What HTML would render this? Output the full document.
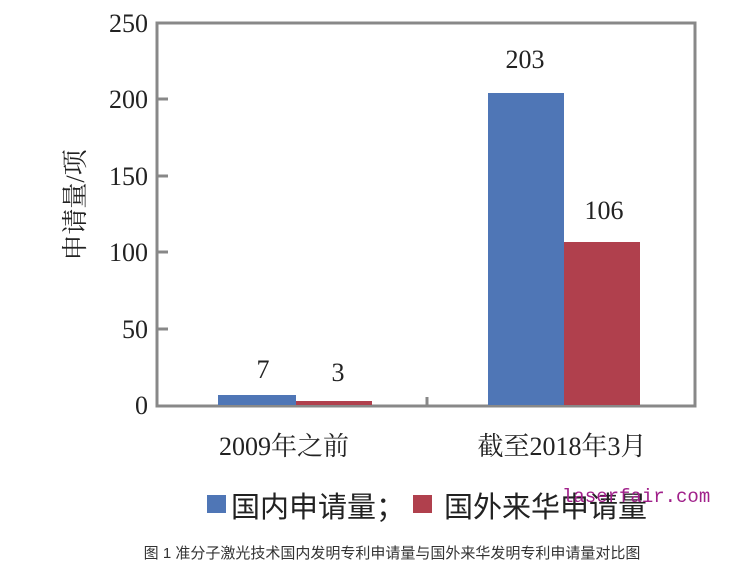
<!DOCTYPE html>
<html><head><meta charset="utf-8"><style>
body{margin:0;background:#fff;width:742px;height:584px;overflow:hidden}
</style></head><body>
<svg width="742" height="584" xmlns="http://www.w3.org/2000/svg" style="position:absolute;left:0;top:0">
<g font-family="'Liberation Serif','Noto Serif CJK SC',serif" fill="#222" font-size="26">
<rect x="157" y="23" width="538" height="383" fill="none" stroke="#888" stroke-width="3"/>
<g stroke="#888" stroke-width="3">
<line x1="157" y1="99" x2="168" y2="99"/><line x1="157" y1="176" x2="168" y2="176"/>
<line x1="157" y1="252" x2="168" y2="252"/><line x1="157" y1="329" x2="168" y2="329"/>
<line x1="427" y1="406" x2="427" y2="397"/>
</g>
<g text-anchor="end">
<text x="148" y="32">250</text><text x="148" y="108">200</text><text x="148" y="185">150</text>
<text x="148" y="261">100</text><text x="148" y="338">50</text><text x="148" y="414">0</text>
</g>
<text transform="translate(84,205) rotate(-90)" text-anchor="middle" font-size="26">申请量/项</text>
<rect x="218" y="395" width="78" height="10" fill="#4f76b6"/>
<rect x="296" y="401" width="76" height="4" fill="#b0404d"/>
<rect x="488" y="93" width="76" height="312" fill="#4f76b6"/>
<rect x="564" y="242" width="76" height="163" fill="#b0404d"/>
<g text-anchor="middle">
<text x="263" y="378">7</text><text x="338" y="381">3</text>
<text x="525" y="68">203</text><text x="604" y="219">106</text>
<text x="284" y="455">2009年之前</text><text x="562" y="455">截至2018年3月</text>
</g>
<rect x="207" y="495" width="19" height="18" fill="#4f76b6"/>
<text x="231" y="517" font-size="29" font-family="'Noto Sans CJK SC',sans-serif">国内申请量；</text>
<rect x="413" y="495" width="19" height="18" fill="#b0404d"/>
<text x="444" y="517" font-size="29" font-family="'Noto Sans CJK SC',sans-serif">国外来华申请量</text>
<text x="562" y="502" font-size="19" fill="#a0208a" font-family="'Liberation Mono',monospace">laserfair.com</text>
<text x="392" y="558" text-anchor="middle" font-size="15" fill="#333" font-family="'Liberation Sans','Noto Sans CJK SC',sans-serif">图 1 准分子激光技术国内发明专利申请量与国外来华发明专利申请量对比图</text>
</g>
</svg>
</body></html>
